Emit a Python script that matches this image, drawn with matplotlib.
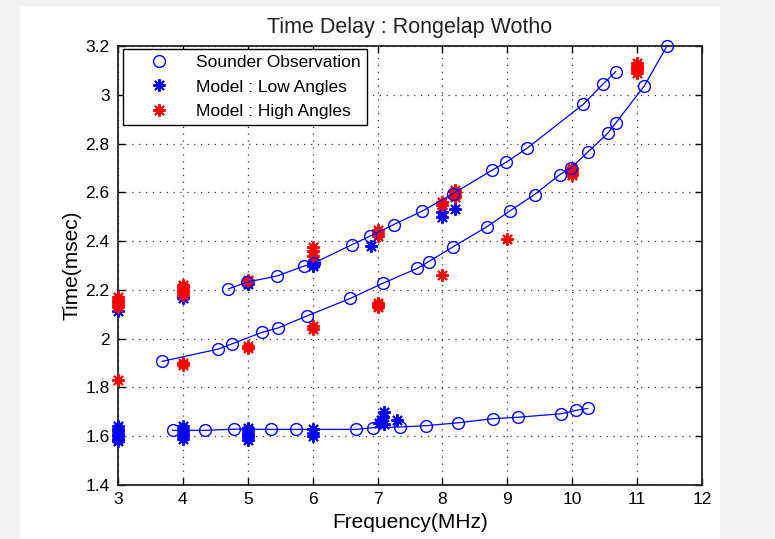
import numpy as np
import matplotlib.pyplot as plt
from matplotlib.patches import Rectangle

plt.rcParams['font.family'] = ['Liberation Sans', 'DejaVu Sans']

# Sounder observation - three traces (freq MHz, time msec)
upper_f = [4.70, 4.99, 5.45, 5.86, 6.02, 6.61, 6.88, 7.25, 7.68, 8.16, 8.76, 8.98, 9.31, 10.17, 10.47, 10.67]
upper_t = [2.204, 2.232, 2.257, 2.297, 2.310, 2.386, 2.420, 2.468, 2.522, 2.594, 2.690, 2.723, 2.782, 2.961, 3.043, 3.095]

middle_f = [3.68, 4.54, 4.76, 5.22, 5.47, 5.92, 6.58, 7.08, 7.61, 7.79, 8.16, 8.68, 9.04, 9.42,
            9.81, 9.98, 10.24, 10.55, 10.67, 11.11, 11.46]
middle_t = [1.907, 1.957, 1.979, 2.026, 2.044, 2.094, 2.165, 2.227, 2.288, 2.316, 2.376, 2.458, 2.524, 2.591,
            2.673, 2.700, 2.765, 2.843, 2.884, 3.036, 3.200]

lower_f = [3.84, 4.34, 4.79, 5.36, 5.75, 6.67, 6.93, 7.35, 7.74, 8.24, 8.78, 9.17, 9.83, 10.06, 10.24]
lower_t = [1.624, 1.624, 1.629, 1.628, 1.628, 1.628, 1.635, 1.638, 1.643, 1.655, 1.672, 1.678, 1.692, 1.706, 1.714]

# Model : Low Angles
low_f = [3, 3, 3, 3, 3, 3, 3, 3,
         4, 4, 4, 4, 4, 4, 4, 4,
         5, 5, 5, 5, 5, 5, 5,
         6, 6, 6, 6, 6,
         6.9, 7.02, 7.06, 7.08, 7.1, 7.1, 7.3,
         8, 8, 8.2]
low_t = [1.58, 1.59, 1.60, 1.61, 1.62, 1.63, 1.64, 2.115,
         1.59, 1.60, 1.61, 1.62, 1.63, 1.64, 2.165, 2.175,
         1.585, 1.595, 1.605, 1.615, 1.625, 1.635, 2.225,
         1.60, 1.615, 1.63, 2.30, 2.31,
         2.38, 1.655, 1.665, 1.68, 1.70, 1.65, 1.665,
         2.50, 2.52, 2.53]

# Model : High Angles
high_f = [3, 3, 3, 3, 3, 3,
          4, 4, 4, 4, 4, 4, 4,
          5, 5, 5, 5,
          6, 6, 6, 6, 6,
          7, 7, 7, 7, 7, 7,
          8, 8, 8, 8.2, 8.2, 8.2, 8.2,
          9, 10, 10, 10, 10,
          11, 11, 11, 11, 11]
high_t = [2.13, 2.14, 2.15, 2.16, 2.17, 1.83,
          2.18, 2.19, 2.20, 2.21, 2.22, 1.89, 1.90,
          2.235, 2.24, 1.96, 1.97,
          2.34, 2.36, 2.375, 2.04, 2.05,
          2.42, 2.435, 2.445, 2.13, 2.14, 2.145,
          2.55, 2.56, 2.26, 2.58, 2.59, 2.60, 2.61,
          2.41, 2.67, 2.68, 2.69, 2.70,
          3.09, 3.10, 3.11, 3.12, 3.13]

xticks = [3, 4, 5, 6, 7, 8, 9, 10, 11, 12]
yticks = [1.4, 1.6, 1.8, 2.0, 2.2, 2.4, 2.6, 2.8, 3.0, 3.2]
ytick_labels = ['1.4', '1.6', '1.8', '2', '2.2', '2.4', '2.6', '2.8', '3', '3.2']

fig = plt.figure(figsize=(7.75, 5.39), dpi=100, facecolor='#f1f1f1')
panel = Rectangle((20 / 775, 0), 700 / 775, 533 / 539, transform=fig.transFigure,
                  facecolor='white', edgecolor='none', zorder=-10)
fig.add_artist(panel)
ax = fig.add_axes([118 / 775, 54 / 539, 584 / 775, 439 / 539])
ax.set_zorder(5)

star = (8, 2, 0)
h_low, = ax.plot(low_f, low_t, linestyle='none', marker=star, color='blue', ms=9, mew=1.4,
                 clip_on=False, zorder=3)
h_high, = ax.plot(high_f, high_t, linestyle='none', marker=star, color='red', ms=9, mew=1.4,
                  clip_on=False, zorder=4)

for f, t in [(upper_f, upper_t), (middle_f, middle_t), (lower_f, lower_t)]:
    ax.plot(f, t, color='blue', lw=0.9, zorder=5, clip_on=False)
    h_obs, = ax.plot(f, t, linestyle='none', marker='o', ms=8.5, mfc='none', mec='blue', mew=1.0,
                     zorder=6, clip_on=False)

ax.set_xlim(3, 12)
ax.set_ylim(1.4, 3.2)
ax.set_xticks(xticks)
ax.set_yticks(yticks)
ax.set_yticklabels(ytick_labels)
ax.tick_params(direction='in', top=True, right=True, length=5, width=1, labelsize=12.5)
ax.tick_params(axis='y', pad=6)
ax.tick_params(axis='x', pad=5)
ax.grid(True, color='#333333', linestyle=(0, (1, 4.5)), lw=0.9)
for s in ax.spines.values():
    s.set_linewidth(1.3)
    s.set_color('#222222')

ax.set_title('Time Delay : Rongelap Wotho', fontsize=15.5, pad=9, color='#222222')
ax.set_xlabel('Frequency(MHz)', fontsize=15, labelpad=4)
ax.set_ylabel('Time(msec)', fontsize=15, labelpad=3)

leg = ax.legend([h_obs, h_low, h_high],
                ['Sounder Observation', 'Model : Low Angles', 'Model : High Angles'],
                loc='upper left', bbox_to_anchor=(0.008, 0.994), fontsize=12.5, fancybox=False,
                framealpha=1, edgecolor='black', borderpad=0.35, labelspacing=0.55,
                handlelength=3.5, handletextpad=0.4, borderaxespad=0)
leg.get_frame().set_linewidth(1.0)

fig.savefig('out.png', dpi=100, facecolor=fig.get_facecolor())
